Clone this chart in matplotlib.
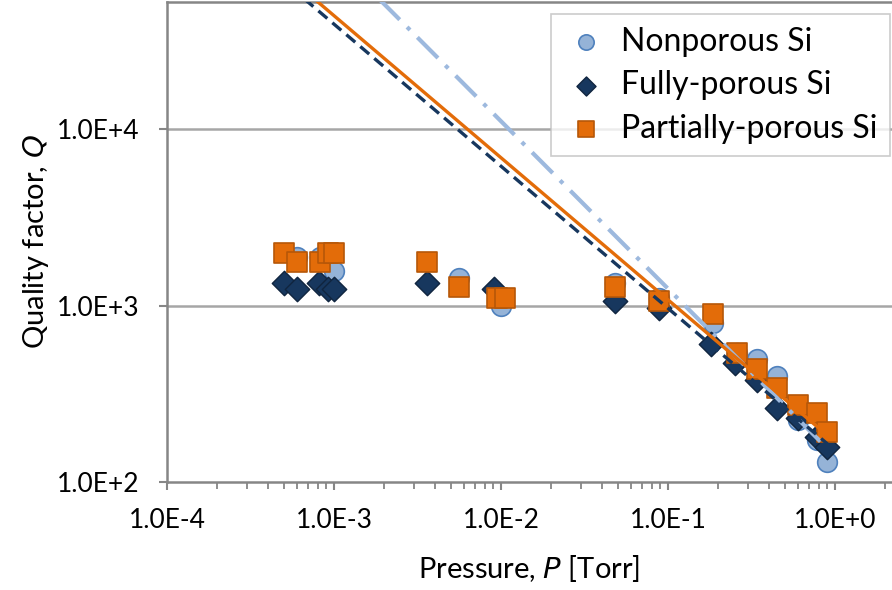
import numpy as np
import matplotlib
matplotlib.use("Agg")
import matplotlib.pyplot as plt
from matplotlib.ticker import FixedLocator, FuncFormatter, NullFormatter

plt.rcParams['font.family'] = ['Lato', 'DejaVu Sans']

# data (P in Torr, Q)
nonporous_p = [6.0e-4, 8.2e-4, 1.0e-3, 5.6e-3, 1.0e-2, 0.048, 0.088, 0.186, 0.26, 0.34, 0.45, 0.60, 0.78, 0.90]
nonporous_q = [1900, 1900, 1580, 1440, 1000, 1340, 1100, 800, 540, 500, 400, 224, 173, 130]

fully_p = [5.0e-4, 6.0e-4, 8.1e-4, 9.2e-4, 1.0e-3, 3.6e-3, 9.1e-3, 0.048, 0.088, 0.18, 0.25, 0.34, 0.45, 0.60, 0.78, 0.90]
fully_q = [1350, 1250, 1350, 1250, 1250, 1350, 1250, 1060, 975, 610, 476, 380, 262, 231, 180, 158]

partial_p = [5.0e-4, 6.0e-4, 8.2e-4, 9.2e-4, 1.0e-3, 3.6e-3, 5.6e-3, 9.5e-3, 1.06e-2, 0.048, 0.088, 0.186, 0.26, 0.34, 0.45, 0.60, 0.78, 0.90]
partial_q = [2000, 1780, 1780, 2000, 2000, 1780, 1270, 1110, 1110, 1280, 1070, 900, 540, 440, 340, 272, 245, 192]

# power-law fits Q = A * P**b
fit_nonporous = (140.0, -0.95)
fit_fully = (151.0, -0.806)
fit_partial = (168.7, -0.806)

c_light = '#95B3D7'
c_light_edge = '#4F81BD'
c_navy = '#17375E'
c_orange = '#E36C09'
c_orange_edge = '#B65708'
c_axis = '#868686'

fig = plt.figure(figsize=(8.92, 5.90), dpi=100)
ax = fig.add_axes([0.1872, 0.183, 0.8128, 0.8136])

ax.set_xscale('log')
ax.set_yscale('log')
ax.set_xlim(1e-4, 2.19)
ax.set_ylim(100, 52800)

for yv in [1e3, 1e4]:
    ax.axhline(yv, color='#A6A6A6', lw=1.8, zorder=0)

ax.scatter(nonporous_p, nonporous_q, s=200, marker='o', color=c_light,
           edgecolor=c_light_edge, linewidth=1.2, zorder=3, label='Nonporous Si')
ax.scatter(fully_p, fully_q, s=155, marker='D', color=c_navy,
           edgecolor='#10253F', linewidth=1.0, zorder=4, label='Fully-porous Si')
ax.scatter(partial_p, partial_q, s=215, marker='s', color=c_orange,
           edgecolor=c_orange_edge, linewidth=1.2, zorder=5, label='Partially-porous Si')

pp = np.logspace(-4, np.log10(0.9), 200)
ax.plot(pp, fit_nonporous[0] * pp ** fit_nonporous[1], color='#9DB9DE', lw=3.0,
        dashes=(7, 2.5, 1, 2.5), zorder=6)
ax.plot(pp, fit_fully[0] * pp ** fit_fully[1], color=c_navy, lw=2.4,
        dashes=(3.5, 2), zorder=6)
ax.plot(pp, fit_partial[0] * pp ** fit_partial[1], color=c_orange, lw=2.4, zorder=6)

# axes styling
ax.spines['right'].set_visible(False)
for side in ['left', 'bottom', 'top']:
    ax.spines[side].set_color(c_axis)
    ax.spines[side].set_linewidth(1.8)

xt = [1e-4, 1e-3, 1e-2, 1e-1, 1e0]
ax.xaxis.set_major_locator(FixedLocator(xt))
minor = [m * 10.0 ** e for e in range(-4, 1) for m in range(2, 10)]
ax.xaxis.set_minor_locator(FixedLocator(minor))
ax.xaxis.set_minor_formatter(NullFormatter())
ax.yaxis.set_major_locator(FixedLocator([1e2, 1e3, 1e4]))
ax.yaxis.set_minor_locator(FixedLocator([]))

def sci(v, pos):
    e = int(round(np.log10(v)))
    return '1.0E%+d' % e if e != 0 else '1.0E+0'

ax.xaxis.set_major_formatter(FuncFormatter(sci))
ax.yaxis.set_major_formatter(FuncFormatter(sci))
ax.tick_params(axis='both', which='major', labelsize=19, direction='out',
               length=6, width=1.5, color=c_axis)
ax.tick_params(axis='x', which='major', pad=13)
ax.tick_params(axis='y', which='major', pad=14)
ax.tick_params(axis='x', which='minor', direction='out', length=5, width=1.3, color=c_axis)

ax.set_xlabel('Pressure, $\\mathit{P}$ [Torr]', fontsize=21, labelpad=14)
ax.set_ylabel('Quality factor, $\\mathit{Q}$', fontsize=21, labelpad=4)

leg = ax.legend(loc='upper right', bbox_to_anchor=(0.9975, 0.975), borderaxespad=0,
                fontsize=23, frameon=True, fancybox=False, handletextpad=0.4,
                borderpad=0.4, labelspacing=0.42, markerscale=0.78, handlelength=1.4)
leg.get_frame().set_edgecolor('#BFBFBF')
leg.get_frame().set_linewidth(1.2)

fig.savefig('out.png', dpi=100)
